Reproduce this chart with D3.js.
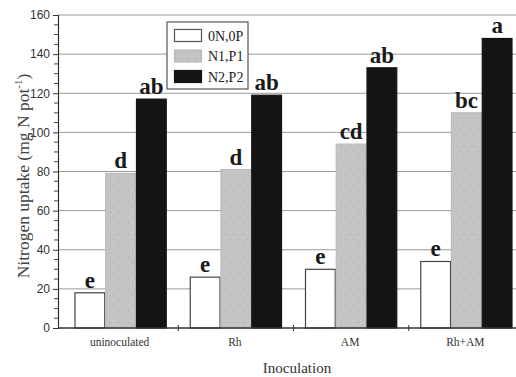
<!DOCTYPE html>
<html><head><meta charset="utf-8">
<script src="https://cdn.jsdelivr.net/npm/d3@7"></script>
<style>body{margin:0;background:#fff;}svg{display:block;}</style>
</head><body>
<svg id="c" width="516" height="377"></svg>
<script>
const categories = ["uninoculated", "Rh", "AM", "Rh+AM"];
const seriesNames = ["0N,0P", "N1,P1", "N2,P2"];
const values0N0P = [18, 26, 30, 34];
const valuesN1P1 = [79, 81, 94, 110];
const valuesN2P2 = [117, 119, 133, 148];
const letters0N0P = ["e", "e", "e", "e"];
const lettersN1P1 = ["d", "d", "cd", "bc"];
const lettersN2P2 = ["ab", "ab", "ab", "a"];
const yTicks = [0, 20, 40, 60, 80, 100, 120, 140, 160];

const seriesValues = [values0N0P, valuesN1P1, valuesN2P2];
const seriesLetters = [letters0N0P, lettersN1P1, lettersN2P2];
const fills = ["#ffffff", "#c4c4c4", "#141414"];
const strokes = ["#444", "#bbb", "#141414"];

const svg = d3.select("#c");
const axisX = 58, baseY = 328, topY = 15;
const y = d3.scaleLinear().domain([0, 160]).range([baseY, topY]);
const x0 = d3.scaleBand().domain(categories).range([63, 524]).padding(0);
const x1 = d3.scaleBand().domain(seriesNames).range([11.5, x0.bandwidth() - 11.5]).padding(0);

// gridlines
svg.append("g").selectAll("line").data(yTicks.filter(t => t > 0)).join("line")
  .attr("x1", axisX).attr("x2", 516)
  .attr("y1", d => y(d)).attr("y2", d => y(d))
  .attr("stroke", "#9a9a9a").attr("stroke-width", 1);

// speckle pattern for gray bars
const defs = svg.append("defs");
const pat = defs.append("pattern").attr("id", "spk").attr("width", 9).attr("height", 11)
  .attr("patternUnits", "userSpaceOnUse");
pat.append("rect").attr("width", 9).attr("height", 11).attr("fill", "#c4c4c4");
pat.append("rect").attr("x", 2).attr("y", 3).attr("width", 1).attr("height", 1).attr("fill", "#a8a8a8");
pat.append("rect").attr("x", 6).attr("y", 8).attr("width", 1).attr("height", 1).attr("fill", "#b0b0b0");
pat.append("rect").attr("x", 5).attr("y", 1).attr("width", 1).attr("height", 1).attr("fill", "#d4d4d4");

// bars
const groups = svg.append("g").selectAll("g").data(categories).join("g")
  .attr("transform", c => `translate(${x0(c)},0)`);
seriesNames.forEach((s, si) => {
  groups.append("rect")
    .attr("x", x1(s) + 0.5)
    .attr("y", (c, ci) => y(seriesValues[si][ci]))
    .attr("width", x1.bandwidth() - 1)
    .attr("height", (c, ci) => baseY - y(seriesValues[si][ci]))
    .attr("fill", si === 1 ? "url(#spk)" : fills[si])
    .attr("stroke", strokes[si]).attr("stroke-width", 1.2);
  groups.append("text")
    .attr("x", x1(s) + x1.bandwidth() / 2)
    .attr("y", (c, ci) => y(seriesValues[si][ci]) - 5)
    .attr("text-anchor", "middle")
    .attr("font-family", "Liberation Serif, DejaVu Serif, serif")
    .attr("font-weight", "bold").attr("font-size", 23).attr("fill", "#1a1a1a")
    .text((c, ci) => seriesLetters[si][ci]);
});

// y axis
const yAxis = d3.axisLeft(y).tickValues(yTicks).tickSize(5).tickPadding(3);
const gy = svg.append("g").attr("transform", `translate(${axisX},0)`).call(yAxis);
gy.select(".domain").attr("stroke", "#333").attr("stroke-width", 1.2);
gy.selectAll(".tick line").attr("stroke", "#333");
gy.selectAll("text").attr("font-family", "Liberation Sans, Arial, sans-serif")
  .attr("font-size", 12).attr("fill", "#333");
const minor = d3.range(0, 161, 5).filter(v => v % 20 !== 0);
svg.append("g").selectAll("line").data(minor).join("line")
  .attr("x1", axisX - 4).attr("x2", axisX).attr("y1", d => y(d)).attr("y2", d => y(d))
  .attr("stroke", "#444");

// x axis
svg.append("line").attr("x1", axisX).attr("x2", 516).attr("y1", baseY).attr("y2", baseY)
  .attr("stroke", "#333").attr("stroke-width", 1.5);
svg.append("g").selectAll("line").data(categories.slice(1)).join("line")
  .attr("x1", c => x0(c)).attr("x2", c => x0(c)).attr("y1", baseY - 3).attr("y2", baseY + 3)
  .attr("stroke", "#333");
svg.append("g").selectAll("text").data(categories).join("text")
  .attr("x", c => x0(c) + x0.bandwidth() / 2 - 1).attr("y", 346)
  .attr("text-anchor", "middle")
  .attr("font-family", "Liberation Serif, DejaVu Serif, serif").attr("font-size", 11.5).attr("fill", "#333")
  .text(c => c);

// axis titles
svg.append("text").attr("x", 297).attr("y", 373).attr("text-anchor", "middle")
  .attr("font-family", "Liberation Serif, DejaVu Serif, serif").attr("font-size", 15).attr("fill", "#333")
  .text("Inoculation");
const yl = svg.append("text").attr("transform", "translate(29,176) rotate(-90)")
  .attr("text-anchor", "middle")
  .attr("font-family", "Liberation Serif, DejaVu Serif, serif").attr("font-size", 17.5).attr("fill", "#444");
yl.append("tspan").text("Nitrogen uptake (mg N pot");
yl.append("tspan").attr("dy", -7).attr("font-size", 11).text("-1");
yl.append("tspan").attr("dy", 7).text(")");

// legend
const lg = svg.append("g").attr("transform", "translate(167,22)");
lg.append("rect").attr("width", 81).attr("height", 67).attr("fill", "#fff").attr("stroke", "#555").attr("stroke-width", 1.2);
seriesNames.forEach((s, i) => {
  lg.append("rect").attr("x", 7.5).attr("y", 7.5 + i * 20.5).attr("width", 27).attr("height", 12)
    .attr("fill", i === 1 ? "url(#spk)" : fills[i]).attr("stroke", i === 0 ? "#555" : strokes[i]).attr("stroke-width", 1.2);
  lg.append("text").attr("x", 41).attr("y", 18.5 + i * 20.5)
    .attr("font-family", "Liberation Serif, DejaVu Serif, serif").attr("font-size", 14).attr("fill", "#222")
    .text(s);
});
</script>
</body></html>
